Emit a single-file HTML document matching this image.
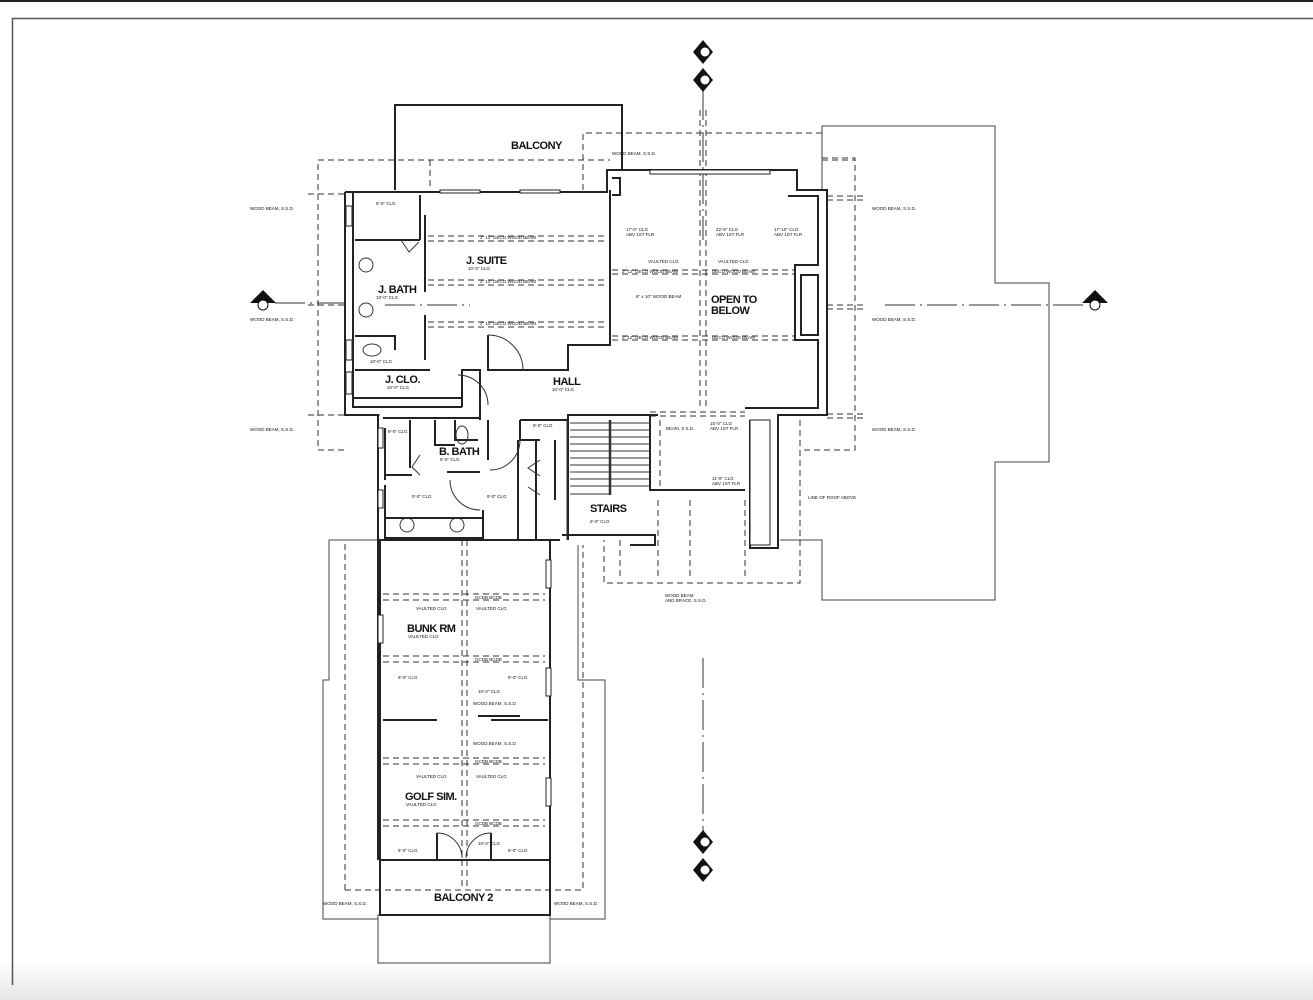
<!DOCTYPE html>
<html><head><meta charset="utf-8"><style>
html,body{margin:0;padding:0;background:#fff;width:1313px;height:1000px;overflow:hidden}
svg{display:block}
text{font-family:"Liberation Sans",sans-serif;fill:#111}
.t{font-size:4.5px}
.l{font-size:11px;font-weight:bold;letter-spacing:-0.5px}
</style></head><body>
<svg width="1313" height="1000" viewBox="0 0 1313 1000" xmlns="http://www.w3.org/2000/svg">
<defs><linearGradient id="g" x1="0" y1="0" x2="0" y2="1"><stop offset="0" stop-color="#fff"/><stop offset="1" stop-color="#e6e6e6"/></linearGradient></defs>
<rect x="0" y="960" width="1313" height="40" fill="url(#g)"/>
<line x1="0" y1="1" x2="1313" y2="1" stroke="#222" stroke-width="2"/>
<path d="M12.5 985 V18.5 H1313" fill="none" stroke="#555" stroke-width="1.5"/>

<!-- roof outlines (thin) -->
<g fill="none" stroke="#444" stroke-width="1">
<polyline points="822,190 822,126 995,126 995,283 1049,283 1049,462 995,462 995,600 822,600 822,540 780,540"/>
<polyline points="380,540 329,540 329,680 323,680 323,919 378,919"/>
<polyline points="550,919 605,919 605,680 578,680 578,545"/>
<rect x="378" y="915" width="172" height="48"/>
</g>

<!-- dashed beams / overhangs -->
<g fill="none" stroke="#333" stroke-width="1" stroke-dasharray="6,4">
<polyline points="318,250 318,160 610,160"/>
<line x1="318" y1="250" x2="318" y2="450"/>
<line x1="318" y1="450" x2="345" y2="450"/>
<line x1="308" y1="194" x2="345" y2="194"/>
<line x1="308" y1="305" x2="345" y2="305"/>
<line x1="308" y1="415" x2="380" y2="415"/>
<line x1="430" y1="160" x2="430" y2="190"/>
<polyline points="583,190 583,133 822,133"/>
<line x1="822" y1="160" x2="855" y2="160"/>
<polyline points="822,158 855,158 855,450 800,450"/>
<line x1="827" y1="196" x2="865" y2="196"/>
<line x1="827" y1="200" x2="865" y2="200"/>
<line x1="827" y1="305" x2="865" y2="305"/>
<line x1="827" y1="309" x2="865" y2="309"/>
<line x1="827" y1="414" x2="865" y2="414"/>
<line x1="827" y1="418" x2="865" y2="418"/>
<line x1="800" y1="420" x2="800" y2="580"/>
<polyline points="800,580 800,583 604,583 604,540"/>
<line x1="700" y1="110" x2="700" y2="410"/>
<line x1="706" y1="110" x2="706" y2="410"/>
<line x1="428" y1="236" x2="607" y2="236"/>
<line x1="428" y1="241" x2="607" y2="241"/>
<line x1="428" y1="280" x2="607" y2="280"/>
<line x1="428" y1="285" x2="607" y2="285"/>
<line x1="428" y1="322" x2="607" y2="322"/>
<line x1="428" y1="327" x2="607" y2="327"/>
<line x1="612" y1="270" x2="795" y2="270"/>
<line x1="612" y1="274" x2="795" y2="274"/>
<line x1="612" y1="336" x2="795" y2="336"/>
<line x1="612" y1="340" x2="795" y2="340"/>
<line x1="650" y1="412" x2="745" y2="412"/>
<line x1="650" y1="416" x2="745" y2="416"/>
<line x1="660" y1="420" x2="660" y2="490"/>
<line x1="658" y1="500" x2="658" y2="580"/>
<line x1="690" y1="500" x2="690" y2="580"/>
<line x1="745" y1="500" x2="745" y2="580"/>
<line x1="620" y1="540" x2="620" y2="580"/>
<polyline points="345,890 345,540"/>
<polyline points="345,890 583,890 583,545"/>
<line x1="462" y1="540" x2="462" y2="890"/>
<line x1="467" y1="540" x2="467" y2="890"/>
<line x1="383" y1="594" x2="545" y2="594"/>
<line x1="383" y1="600" x2="545" y2="600"/>
<line x1="383" y1="656" x2="545" y2="656"/>
<line x1="383" y1="662" x2="545" y2="662"/>
<line x1="383" y1="758" x2="545" y2="758"/>
<line x1="383" y1="764" x2="545" y2="764"/>
<line x1="383" y1="820" x2="545" y2="820"/>
<line x1="383" y1="826" x2="545" y2="826"/>
</g>

<!-- grid axis dash-dot -->
<g stroke="#333" stroke-width="1" stroke-dasharray="30,5,2,5" fill="none">
<line x1="703" y1="90" x2="703" y2="240"/>
<line x1="703" y1="658" x2="703" y2="835"/>
<line x1="275" y1="303" x2="345" y2="303"/>
<line x1="385" y1="305" x2="470" y2="305"/>
<line x1="885" y1="305" x2="1085" y2="305"/>
</g>

<!-- walls -->
<g fill="none" stroke="#222" stroke-width="2">
<polyline points="395,190 395,105 622,105 622,170"/>
<polyline points="345,192 607,192 607,170 622,170"/>
<polyline points="612,170 797,170 797,190 827,190 827,415 778,415 778,548 750,548 750,420"/>
<polyline points="612,178 620,178 620,195 612,195"/>
<polyline points="610,190 610,345 568,345 568,370 488,370 488,335"/>
<polyline points="788,196 818,196 818,265 795,265 795,340 818,340 818,408 745,408"/>
<rect x="801" y="275" width="17" height="60"/>
<polyline points="345,192 345,415 378,415 378,860"/>
<polyline points="353,192 353,407 462,407"/>
<line x1="355" y1="240" x2="420" y2="240"/>
<line x1="420" y1="195" x2="420" y2="240"/>
<polyline points="355,336 395,336 395,350"/>
<line x1="425" y1="215" x2="425" y2="292"/>
<line x1="425" y1="315" x2="425" y2="360"/>
<polyline points="355,370 430,370"/>
<polyline points="462,407 462,370 480,370 480,420"/>
<line x1="353" y1="398" x2="462" y2="398"/>
<polyline points="383,418 480,418"/>
<polyline points="385,428 385,480"/>
<line x1="410" y1="420" x2="410" y2="468"/>
<polyline points="385,475 412,475"/>
<polyline points="435,420 435,445 455,445"/>
<polyline points="455,420 455,440 478,440"/>
<line x1="447" y1="472" x2="480" y2="472"/>
<polyline points="385,485 385,538 483,538 483,510"/>
<line x1="385" y1="518" x2="483" y2="518"/>
<polyline points="488,420 488,420 488,460"/>
<polyline points="520,420 568,420 568,415 658,415"/>
<polyline points="520,420 520,440 540,440"/>
<polyline points="518,440 518,540"/>
<polyline points="536,440 536,540 560,540"/>
<polyline points="555,440 555,500"/>
<polyline points="568,420 568,540"/>
<polyline points="650,415 650,490 745,490"/>
<polyline points="562,535 655,535 655,545 630,545"/>
<rect x="380" y="540" width="170" height="320"/>
<line x1="383" y1="720" x2="437" y2="720"/>
<line x1="491" y1="720" x2="548" y2="720"/>
<line x1="478" y1="716" x2="520" y2="716"/>
<polyline points="380,860 380,915 550,915 550,860"/>
<polyline points="437,860 437,833"/>
<polyline points="491,860 491,833"/>
</g>

<!-- stairs -->
<g stroke="#333" stroke-width="1">
<line x1="570" y1="423" x2="650" y2="423"/>
<line x1="570" y1="430" x2="650" y2="430"/>
<line x1="570" y1="437" x2="650" y2="437"/>
<line x1="570" y1="444" x2="650" y2="444"/>
<line x1="570" y1="451" x2="650" y2="451"/>
<line x1="570" y1="458" x2="650" y2="458"/>
<line x1="570" y1="465" x2="650" y2="465"/>
<line x1="570" y1="472" x2="650" y2="472"/>
<line x1="570" y1="479" x2="650" y2="479"/>
<line x1="570" y1="486" x2="650" y2="486"/>
<line x1="570" y1="494" x2="610" y2="494"/>
<line x1="610" y1="420" x2="610" y2="495" stroke-width="2.5"/>
<line x1="567" y1="540" x2="567" y2="420"/>
</g>

<!-- door swings -->
<g fill="none" stroke="#333" stroke-width="1">
<path d="M488 335 A35 35 0 0 1 523 370"/>
<path d="M488 405 A30 30 0 0 0 458 375" />
<path d="M520 440 A30 30 0 0 1 490 470"/>
<path d="M450 480 A30 30 0 0 0 480 510"/>
<path d="M437 833 A25 25 0 0 1 462 858"/>
<path d="M491 833 A25 25 0 0 0 466 858"/>
<path d="M401 240 l8 12 l10 -10"/>
<path d="M420 455 l-8 12 l8 8"/>
<path d="M540 460 l-12 8 l12 8 M540 495 l-12 -8"/>
<circle cx="366" cy="265" r="7"/><circle cx="366" cy="310" r="7"/>
<circle cx="407" cy="525" r="7"/><circle cx="457" cy="525" r="7"/>
<ellipse cx="372" cy="350" rx="9" ry="6"/>
<ellipse cx="462" cy="435" rx="6" ry="9"/>
</g>

<!-- window marks -->
<g fill="#fff" stroke="#222" stroke-width="1">
<rect x="346" y="206" width="6" height="20"/><rect x="346" y="340" width="6" height="20"/><rect x="346" y="372" width="6" height="22"/>
<rect x="378" y="428" width="5" height="20"/><rect x="378" y="490" width="5" height="18"/>
<rect x="378" y="615" width="5" height="28"/><rect x="546" y="560" width="5" height="28"/><rect x="546" y="668" width="5" height="28"/><rect x="546" y="778" width="5" height="28"/>
<rect x="650" y="170" width="120" height="4"/>
<rect x="440" y="190" width="40" height="3"/><rect x="520" y="190" width="40" height="3"/>
<rect x="750" y="420" width="20" height="125"/>
</g>

<!-- section markers -->
<g fill="#111">
<polygon points="703,40 693,52 703,64 713,52"/><polygon points="703,68 693,80 703,92 713,80"/>
<polygon points="703,830 693,842 703,854 713,842"/><polygon points="703,858 693,870 703,882 713,870"/>
<polygon points="263,290 250,303 276,303"/><polygon points="1095,290 1082,303 1108,303"/>
</g>
<g fill="#fff" stroke="#111" stroke-width="1">
<circle cx="705" cy="52" r="5"/><circle cx="705" cy="80" r="5"/><circle cx="705" cy="842" r="5"/><circle cx="705" cy="870" r="5"/>
<circle cx="263" cy="305" r="5"/><circle cx="1095" cy="305" r="5"/>
</g>

<!-- labels -->
<text class="l" x="511" y="149">BALCONY</text>
<text class="l" x="466" y="264">J. SUITE</text>
<text class="t" x="468" y="270">10'-0" CLG</text>
<text class="l" x="378" y="293">J. BATH</text>
<text class="t" x="376" y="299">10'-0" CLG</text>
<text class="l" x="385" y="383">J. CLO.</text>
<text class="t" x="387" y="389">10'-0" CLG</text>
<text class="l" x="553" y="385">HALL</text>
<text class="t" x="552" y="391">10'-0" CLG</text>
<text class="l" x="711" y="303">OPEN TO</text>
<text class="l" x="711" y="314">BELOW</text>
<text class="l" x="439" y="455">B. BATH</text>
<text class="t" x="440" y="461">9'-0" CLG</text>
<text class="l" x="590" y="512">STAIRS</text>
<text class="t" x="590" y="523">9'-0" CLG</text>
<text class="l" x="407" y="632">BUNK RM</text>
<text class="t" x="408" y="638">VAULTED CLG</text>
<text class="l" x="405" y="800">GOLF SIM.</text>
<text class="t" x="406" y="806">VAULTED CLG</text>
<text class="l" x="434" y="901">BALCONY 2</text>

<g class="t">
<text x="612" y="155">WOOD BEAM, S.S.D.</text>
<text x="250" y="210">WOOD BEAM, S.S.D.</text>
<text x="250" y="321">WOOD BEAM, S.S.D.</text>
<text x="250" y="431">WOOD BEAM, S.S.D.</text>
<text x="872" y="210">WOOD BEAM, S.S.D.</text>
<text x="872" y="321">WOOD BEAM, S.S.D.</text>
<text x="872" y="431">WOOD BEAM, S.S.D.</text>
<text x="808" y="499">LINE OF ROOF ABOVE</text>
<text x="665" y="597">WOOD BEAM</text><text x="665" y="602">AND BRACE, S.S.D.</text>
<text x="323" y="905">WOOD BEAM, S.S.D.</text>
<text x="554" y="905">WOOD BEAM, S.S.D.</text>
<text x="376" y="205">9'-0" CLG</text>
<text x="480" y="239">2" 12" DECO WOOD BEAM</text>
<text x="480" y="283">2" 12" DECO WOOD BEAM</text>
<text x="480" y="325">2" 12" DECO WOOD BEAM</text>
<text x="622" y="273">2" 12" DECO WOOD BEAM</text>
<text x="712" y="273">DECO WOOD BEAM</text>
<text x="622" y="339">2" 12" DECO WOOD BEAM</text>
<text x="712" y="339">DECO WOOD BEAM</text>
<text x="626" y="231">17'-0" CLG</text><text x="626" y="236">ABV 1ST FLR</text>
<text x="716" y="231">22'-8" CLG</text><text x="716" y="236">ABV 1ST FLR</text>
<text x="774" y="231">17'-10" CLG</text><text x="774" y="236">ABV 1ST FLR</text>
<text x="648" y="263">VAULTED CLG</text><text x="718" y="263">VAULTED CLG</text>
<text x="636" y="298">6" x 10" WOOD BEAM</text>
<text x="370" y="363">10'-0" CLG</text>
<text x="388" y="433">9'-0" CLG</text>
<text x="533" y="427">9'-0" CLG</text>
<text x="412" y="498">9'-0" CLG</text>
<text x="487" y="498">9'-0" CLG</text>
<text x="666" y="430">BEAM, S.S.D.</text>
<text x="710" y="425">15'-0" CLG</text><text x="710" y="430">ABV 1ST FLR</text>
<text x="712" y="480">11'-8" CLG</text><text x="712" y="485">ABV 1ST FLR</text>
<text x="416" y="610">VAULTED CLG</text><text x="476" y="610">VAULTED CLG</text>
<text x="416" y="778">VAULTED CLG</text><text x="476" y="778">VAULTED CLG</text>
<text x="398" y="679">9'-0" CLG</text><text x="508" y="679">9'-0" CLG</text>
<text x="478" y="693">10'-0" CLG</text>
<text x="473" y="705">WOOD BEAM, S.S.D.</text>
<text x="473" y="745">WOOD BEAM, S.S.D.</text>
<text x="398" y="852">9'-0" CLG</text><text x="508" y="852">9'-0" CLG</text>
<text x="478" y="845">10'-0" CLG</text>
<text x="475" y="599">GCDB BCDB</text><text x="475" y="661">GCDB BCDB</text>
<text x="475" y="763">GCDB BCDB</text><text x="475" y="825">GCDB BCDB</text>
</g>
</svg>
</body></html>
